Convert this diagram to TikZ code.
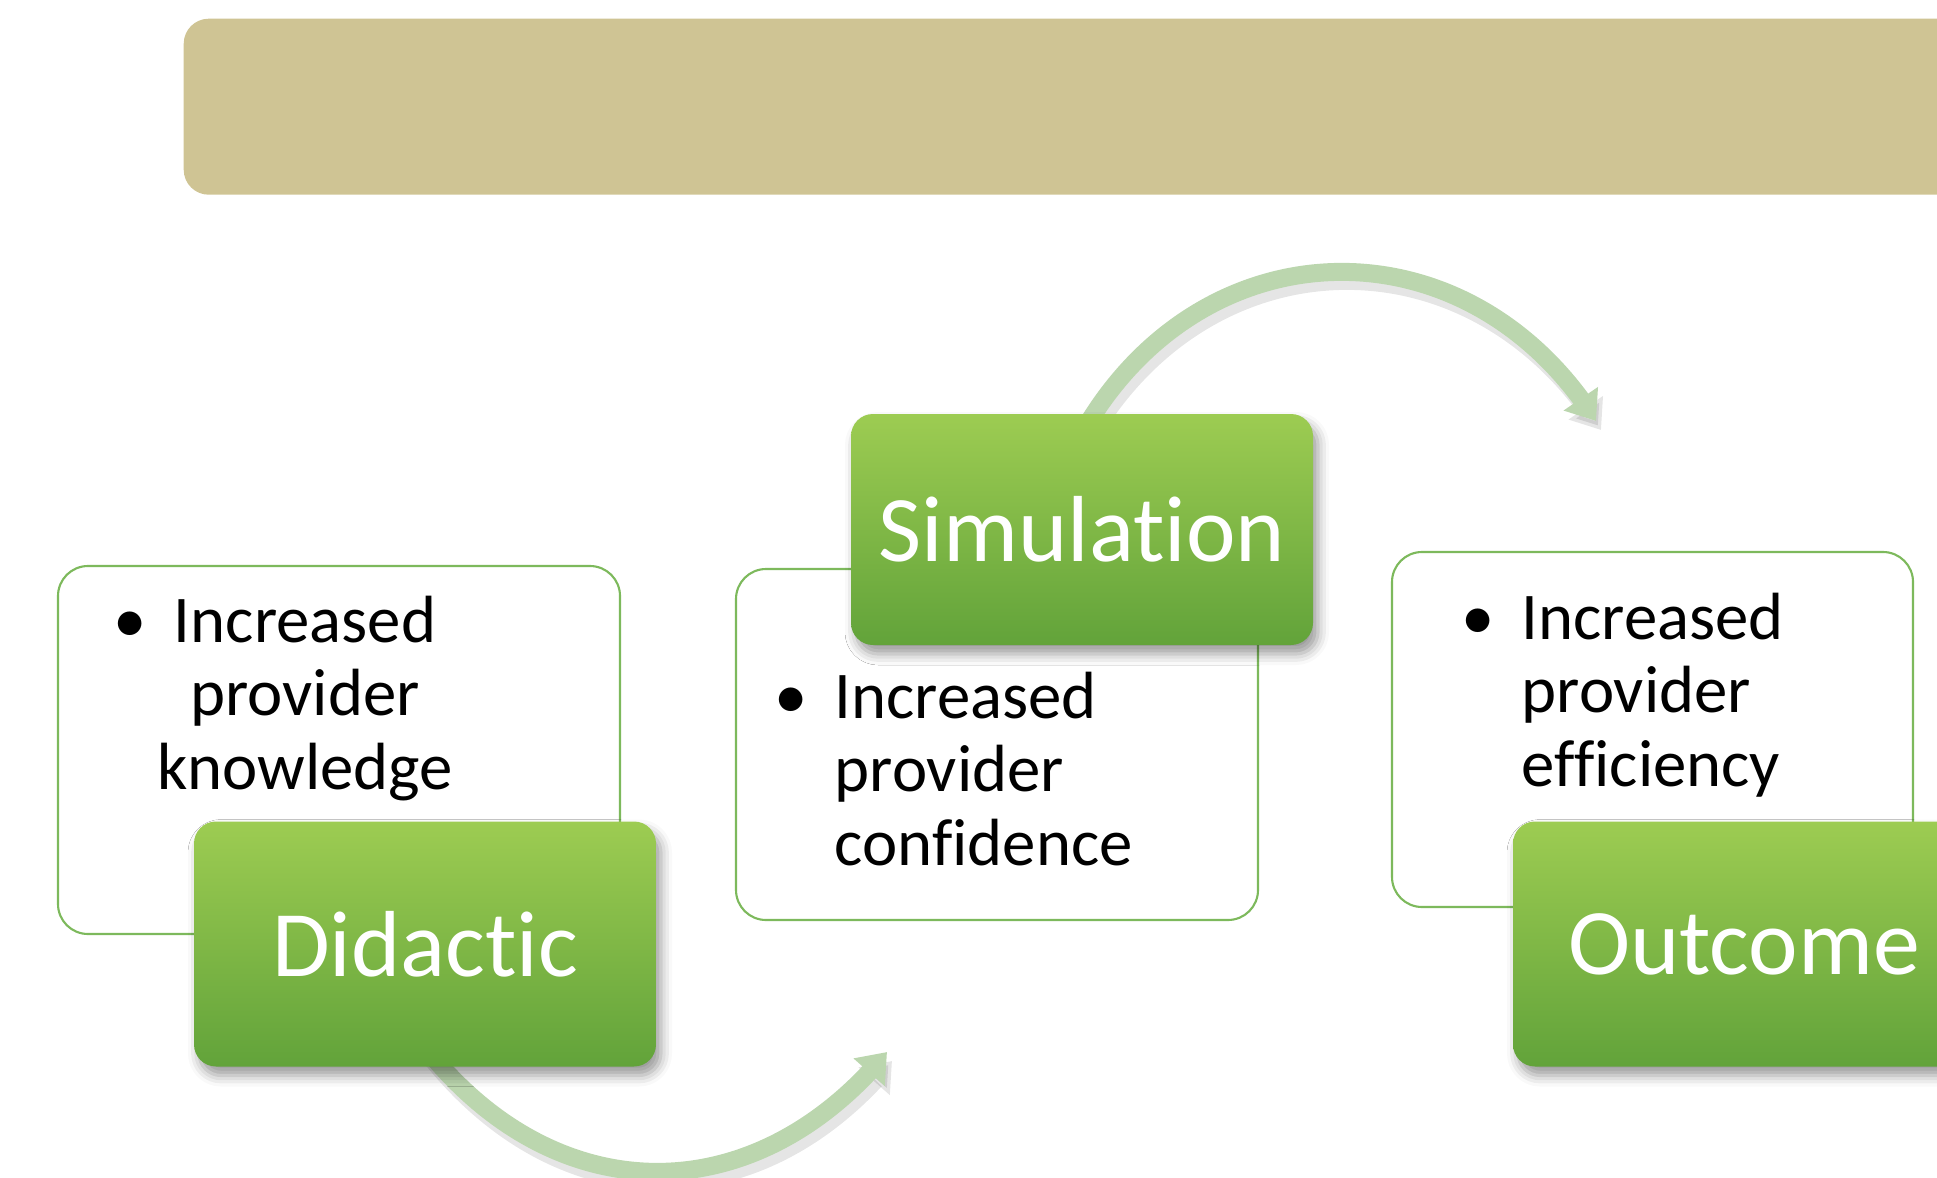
\documentclass[tikz,border=0pt]{standalone}
\usepackage{fontspec}
\setmainfont{Carlito}[Ligatures=NoCommon]
\usetikzlibrary{arrows.meta,bending,backgrounds,shadows.blur}

\definecolor{bannertan}{RGB}{207,196,148}
\definecolor{steptop}{RGB}{157,204,82}
\definecolor{stepbottom}{RGB}{98,163,58}
\definecolor{noteline}{RGB}{125,185,92}
\definecolor{arcgreen}{RGB}{187,214,174}

\newcommand{\bul}{\leavevmode\llap{\textbullet\hspace{0.27cm}}}

\begin{document}
\begin{tikzpicture}[x=1cm,y=1cm]
\tikzset{
  stepbox/.style={rounded corners=2.2mm,minimum width=4.62cm,minimum height=2.45cm,inner sep=0pt,
    top color=steptop,bottom color=stepbottom,text=white,font=\fontsize{26.7}{30}\selectfont,
    blur shadow={shadow xshift=0.5mm,shadow yshift=-0.9mm,shadow blur radius=1.1mm,shadow opacity=40}},
  notebox/.style={rounded corners=3mm,draw=noteline,line width=0.6pt,fill=white,inner sep=0pt},
  notetext/.style={inner sep=0pt,font=\fontsize{19}{21}\selectfont},
  flowarrow/.style={draw=arcgreen,line width=1.8mm,-{Triangle[width=4.0mm,length=2.7mm,flex]}},
  arcshadow/.style={flowarrow,draw=black,opacity=0.1}
}
\useasboundingbox (0,0) rectangle (19.37,-11.78);
\clip (0,0) rectangle (19.37,-11.78);

% banner across the top
\node[fill=bannertan,rounded corners=2.5mm,minimum width=18.6cm,minimum height=1.76cm,anchor=north west] (banner) at (1.83,-0.18) {};

% note boxes behind the steps
\node[notebox,minimum width=5.62cm,minimum height=3.68cm] (know) at (3.39,-7.50) {};
\node[notebox,minimum width=5.22cm,minimum height=3.51cm] (conf) at (9.97,-7.445) {};
\node[notebox,minimum width=5.21cm,minimum height=3.55cm] (eff) at (16.525,-7.295) {};

\node[notetext,text width=4cm,align=center,anchor=base] (knowtext) at (3.05,-6.42) {\bul Increased\\provider\\knowledge};
\node[notetext,text width=4.2cm,align=left,anchor=base west] (conftext) at (8.34,-7.18) {\bul Increased\\provider\\confidence};
\node[notetext,text width=4.2cm,align=left,anchor=base west] (efftext) at (15.21,-6.39) {\bul Increased\\provider\\efficiency};

% the three steps
\node[stepbox] (did) at (4.25,-9.44) {Didactic};
\node[stepbox,minimum height=2.31cm] (sim) at (10.82,-5.295) {Simulation};
\node[stepbox] (out) at (17.44,-9.44) {Outcome};

% arrow ends
\coordinate (tosim) at (8.87,-10.52);
\coordinate (toout) at (15.96,-4.21);

\begin{scope}[on background layer]
  \draw[arcshadow,transform canvas={shift={(0.05,-0.09)}}] ([yshift=2mm]did.south) to[bend right=51,looseness=1.16] (tosim);
  \draw[arcshadow,transform canvas={shift={(0.05,-0.09)}}] ([yshift=-2mm]sim.north) to[bend left=59,looseness=1.2] (toout);
  \draw[flowarrow] ([yshift=2mm]did.south) to[bend right=51,looseness=1.16] (tosim);
  \draw[flowarrow] ([yshift=-2mm]sim.north) to[bend left=59,looseness=1.2] (toout);
\end{scope}
\end{tikzpicture}
\end{document}
